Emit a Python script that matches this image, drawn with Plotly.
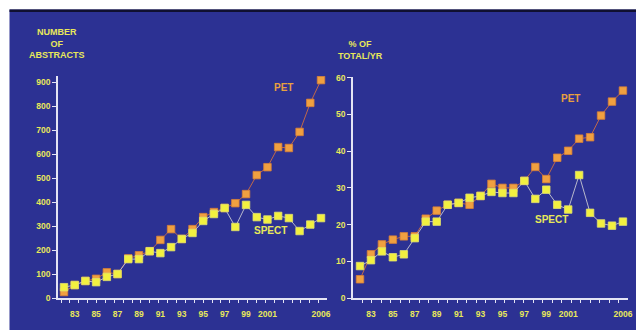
import plotly.graph_objects as go

years = list(range(1982, 2007))

# Left panel: number of abstracts
pet_abstracts = [25, 54, 71, 80, 107, 100, 165, 178, 195, 242, 287, 246, 287, 337, 358, 375,
                 395, 433, 512, 545, 629, 625, 692, 813, 908]
spect_abstracts = [45, 54, 71, 66, 88, 100, 162, 162, 195, 187, 212, 246, 271, 321, 350, 375,
                   296, 388, 337, 327, 342, 333, 279, 306, 333]

# Right panel: % of total per year
pet_pct = [5.1, 11.9, 14.6, 15.9, 16.8, 16.8, 21.6, 23.8, 25.4, 25.9, 25.4, 27.8, 31.1, 30.0,
           30.0, 31.9, 35.7, 32.4, 38.2, 40.1, 43.4, 43.8, 49.7, 53.5, 56.5]
spect_pct = [8.7, 10.3, 12.7, 11.1, 11.9, 16.3, 20.8, 20.8, 25.4, 25.9, 27.3, 27.8, 28.9, 28.6,
             28.6, 31.9, 27.0, 29.5, 25.4, 24.1, 33.5, 23.2, 20.3, 19.7, 20.8]

tick_years = [1983, 1985, 1987, 1989, 1991, 1993, 1995, 1997, 1999, 2001, 2006]
tick_text = ["83", "85", "87", "89", "91", "93", "95", "97", "99", "2001", "2006"]

W, H = 636, 330
BLUE = "#2c3193"
YELLOW = "#e8e85a"
ORANGE_TXT = "#e8a040"
FONT = "Liberation Sans"

def px(x):
    return x / W

def py(y):
    return 1 - y / H

fig = go.Figure()

def add_series(xa, ya, pet, spect):
    fig.add_trace(go.Scatter(x=years, y=pet, mode="lines+markers", xaxis=xa, yaxis=ya,
                             line=dict(color="#c0684a", width=1),
                             marker=dict(symbol="square", size=7.5, color="#f0a040",
                                         line=dict(color="#d88038", width=0.8)),
                             showlegend=False, hoverinfo="skip"))
    fig.add_trace(go.Scatter(x=years, y=spect, mode="lines+markers", xaxis=xa, yaxis=ya,
                             line=dict(color="#b8b8cc", width=1),
                             marker=dict(symbol="square", size=7.5, color="#f2f040",
                                         line=dict(color="#e0e070", width=0.8)),
                             showlegend=False, hoverinfo="skip"))

add_series("x", "y", pet_abstracts, spect_abstracts)
add_series("x2", "y2", pet_pct, spect_pct)

axis_line = "#e4e4f4"
tickfont = dict(family=FONT, size=8.5, color=YELLOW, weight="bold")

def xaxis_cfg(domain, rng, tick0, dtick, anchor):
    return dict(domain=domain, range=rng, anchor=anchor, automargin=False,
                showgrid=False, zeroline=False,
                showline=True, linecolor=axis_line, linewidth=1.5,
                tickmode="array", tickvals=tick_years, ticktext=tick_text,
                ticks="", tickfont=tickfont, ticklabelstandoff=7,
                minor=dict(tickmode="linear", tick0=tick0, dtick=dtick, ticks="outside",
                           ticklen=3, tickcolor=axis_line, tickwidth=1, showgrid=False))

def yaxis_cfg(domain, rng, dtick, anchor):
    return dict(domain=domain, range=rng, anchor=anchor, automargin=False,
                showgrid=False, zeroline=False,
                showline=True, linecolor=axis_line, linewidth=1.5,
                tickmode="linear", tick0=0, dtick=dtick, ticks="outside", ticklen=4,
                tickcolor=axis_line, tickwidth=1, tickfont=tickfont)

title_font = dict(family=FONT, size=9, color=YELLOW, weight="bold")
label_font = dict(family=FONT, size=10, weight="bold")

fig.update_layout(
    width=W, height=H, autosize=False,
    margin=dict(l=0, r=0, t=0, b=0, pad=0),
    paper_bgcolor=BLUE, plot_bgcolor="rgba(0,0,0,0)",
    font=dict(family=FONT, color=YELLOW),
    hovermode=False,
    xaxis=xaxis_cfg([px(58), px(327)], [1981.44, 2006.56], 1981.72, 0.83, "y"),
    yaxis=yaxis_cfg([py(298), py(76)], [0, 925], 100, "x"),
    xaxis2=xaxis_cfg([px(353), px(628)], [1981.36, 2006.46], 1982.2, 0.867, "y2"),
    yaxis2=yaxis_cfg([py(298), py(77)], [0, 60.2], 10, "x2"),
    shapes=[
        # white strips at top and left
        dict(type="rect", xref="paper", yref="paper", x0=0, x1=1, y0=py(9.5), y1=1,
             fillcolor="white", line=dict(width=0), layer="below"),
        dict(type="rect", xref="paper", yref="paper", x0=0, x1=px(9.5), y0=0, y1=1,
             fillcolor="white", line=dict(width=0), layer="below"),
        # dark edge below the top strip
        dict(type="rect", xref="paper", yref="paper", x0=px(9.5), x1=1, y0=py(12), y1=py(9.5),
             fillcolor="#101030", line=dict(width=0), layer="below"),
    ],
    annotations=[
        dict(text="NUMBER<br>OF<br>ABSTRACTS", xref="paper", yref="paper", x=px(57), y=py(44),
             showarrow=False, align="center", font=title_font,
             xanchor="center", yanchor="middle"),
        dict(text="% OF<br>TOTAL/YR", xref="paper", yref="paper", x=px(360), y=py(50),
             showarrow=False, align="center", font=title_font,
             xanchor="center", yanchor="middle"),
        dict(text="PET", xref="paper", yref="paper", x=px(283), y=py(80),
             showarrow=False, font=dict(label_font, color=ORANGE_TXT)),
        dict(text="PET", xref="paper", yref="paper", x=px(582), y=py(91),
             showarrow=False, font=dict(label_font, color=ORANGE_TXT)),
        dict(text="SPECT", xref="paper", yref="paper", x=px(270), y=py(238),
             showarrow=False, font=dict(label_font, color=YELLOW)),
        dict(text="SPECT", xref="paper", yref="paper", x=px(570), y=py(227),
             showarrow=False, font=dict(label_font, color=YELLOW)),
    ],
)

fig.write_html(
    "out.html",
    config={"displayModeBar": False, "responsive": False},
    post_script=(
        "document.documentElement.style.margin='0';"
        "document.body.style.margin='0';"
        "document.body.style.overflow='hidden';"
        "document.body.style.background='" + BLUE + "';"
    ),
)
